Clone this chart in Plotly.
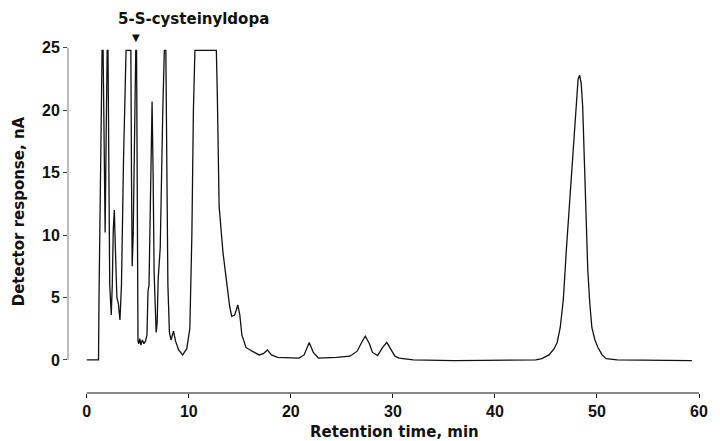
import plotly.graph_objects as go

# Chromatogram trace (retention time in min, response in nA)
time_min = [
    0, 1.15, 1.2, 1.3, 1.4, 1.5, 1.6, 1.7, 1.8, 1.9, 2.0, 2.08, 2.15, 2.25, 2.4,
    2.5, 2.6, 2.7, 2.8, 2.95, 3.1, 3.25, 3.4, 3.6, 3.85, 4.32, 4.38, 4.45, 4.55,
    4.7, 4.8, 4.88, 4.95, 5.02, 5.1, 5.2, 5.3, 5.45, 5.6, 5.75, 5.9, 6.0, 6.1,
    6.25, 6.4, 6.5, 6.6, 6.8, 6.9, 7.0, 7.2, 7.45, 7.6, 7.75, 7.85, 7.95, 8.1,
    8.25, 8.5, 8.7, 9.0, 9.4, 9.8, 10.1, 10.3, 10.45, 10.6, 12.7, 12.8, 12.97,
    13.35, 13.65, 14.0, 14.2, 14.5, 14.8, 15.0, 15.2, 15.6, 16.2, 16.9, 17.3,
    17.7, 18.1, 18.7, 20.8, 21.3, 21.8, 22.2, 22.7, 24.5, 25.8, 26.5, 27.0,
    27.3, 27.7, 28.0, 28.5, 29.0, 29.4, 29.8, 30.2, 30.6, 32, 36, 40, 44, 44.6,
    45.3, 45.8, 46.1, 46.4, 46.7, 47.0, 47.3, 47.6, 47.9, 48.15, 48.3, 48.45,
    48.6, 48.85, 49.1, 49.3, 49.5, 49.8, 50.1, 50.5, 50.9, 52, 56, 59.3,
]
response_na = [
    0, 0, 5, 11, 20, 24.8, 24.8, 16, 10.2, 18, 24.8, 24.8, 14, 6, 3.6,
    6, 10.5, 12.0, 9, 5, 4.5, 3.2, 6, 16, 24.8, 24.8, 15, 7.5, 10,
    20, 24.8, 24.8, 10, 1.5, 1.3, 1.7, 1.2, 1.6, 1.3, 1.5, 2.0, 5.5, 6.0,
    13, 20.7, 15, 7, 2.2, 3.0, 6.5, 9, 20, 24.8, 24.8, 15, 6, 2.2,
    1.6, 2.3, 1.5, 0.8, 0.4, 0.9, 2.5, 10, 20, 24.8, 24.8, 21, 12.3,
    8.6, 6.4, 4.3, 3.5, 3.6, 4.4, 3.6, 2.0, 1.0, 0.7, 0.4, 0.5,
    0.8, 0.4, 0.2, 0.15, 0.4, 1.4, 0.6, 0.15, 0.2, 0.3, 0.7, 1.5,
    1.9, 1.3, 0.6, 0.35, 1.0, 1.4, 0.8, 0.3, 0.15, 0, -0.05, -0.05, 0, 0.1,
    0.4, 0.9, 1.4, 2.6, 4.8, 8.8, 12.5, 16.5, 20.3, 22.5, 22.8, 22.2,
    20.3, 14, 7.2, 4.5, 2.6, 1.6, 1.0, 0.4, 0.1, 0, -0.05, -0.05,
]

# Labelled peak (5-S-cysteinyldopa) retention time
label_time = 4.84

x_ticks = [0, 10, 20, 30, 40, 50, 60]
y_ticks = [0, 5, 10, 15, 20, 25]

x_range = [-1.84, 60.0]
y_range = [-2.65, 25.31]

TICK_FONT = "Liberation Sans, Arial, sans-serif"
TEXT_FONT = "DejaVu Sans, Verdana, sans-serif"
INK = "#111111"

fig = go.Figure()
fig.add_trace(go.Scatter(
    x=time_min, y=response_na, mode="lines",
    line=dict(color=INK, width=1.3),
    hoverinfo="skip", showlegend=False,
))

fig.update_layout(
    width=720, height=441,
    margin=dict(l=68, r=13, t=44, b=48),
    paper_bgcolor="white", plot_bgcolor="white",
    font=dict(family=TICK_FONT, color=INK, size=15),
    xaxis=dict(
        range=x_range, tickvals=x_ticks, showgrid=False, zeroline=False,
        showline=False, ticks="outside", ticklen=4, tickwidth=1, tickcolor=INK,
        tickfont=dict(family=TICK_FONT, size=16, color=INK, weight="bold"),
    ),
    yaxis=dict(
        range=y_range, tickvals=y_ticks, showgrid=False, zeroline=False,
        showline=False, ticks="outside", ticklen=4, tickwidth=1, tickcolor="#444",
        tickfont=dict(family=TICK_FONT, size=16, color=INK, weight="bold"),
    ),
    shapes=[
        dict(type="line", xref="x", yref="paper", x0=x_ticks[0], x1=x_ticks[-1],
             y0=0, y1=0, line=dict(color=INK, width=1)),
        dict(type="line", xref="paper", yref="y", x0=0, x1=0,
             y0=y_ticks[0], y1=y_ticks[-1], line=dict(color="#555", width=0.8)),
    ],
    annotations=[
        dict(text="<b>Retention time, min</b>", xref="paper", yref="paper",
             x=0.518, y=-0.111, showarrow=False, xanchor="center", yanchor="middle",
             font=dict(family=TEXT_FONT, size=15, color=INK)),
        dict(text="<b>Detector response, nA</b>", xref="paper", yref="paper",
             x=-0.078, y=0.52, showarrow=False, textangle=-90,
             xanchor="center", yanchor="middle",
             font=dict(family=TEXT_FONT, size=15, color=INK)),
        dict(text="<b>5-S-cysteinyldopa</b>", xref="x", yref="paper",
             x=2.9, y=1.072, showarrow=False, xanchor="left", yanchor="middle",
             font=dict(family=TEXT_FONT, size=15, color=INK)),
        dict(text="▼", xref="x", yref="paper", x=label_time, y=1.02,
             showarrow=False, xanchor="center", yanchor="middle",
             font=dict(family=TEXT_FONT, size=10, color=INK)),
    ],
)

fig.write_html("out.html")
